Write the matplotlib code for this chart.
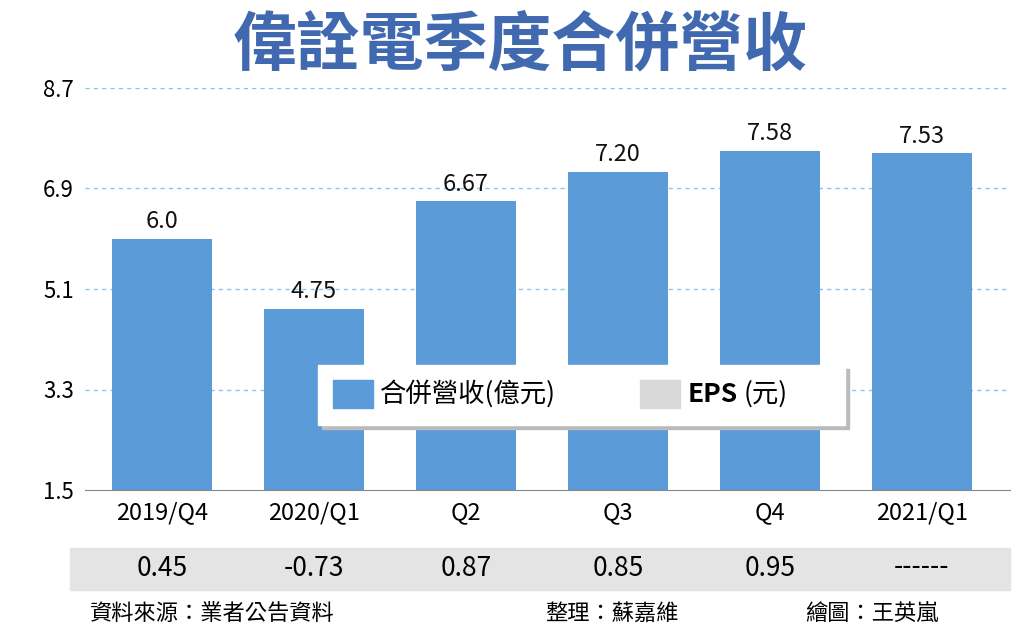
import matplotlib.pyplot as plt
from matplotlib.patches import Rectangle

plt.rcParams['font.family'] = ['Noto Sans CJK TC', 'DejaVu Sans']

quarters = ['2019/Q4', '2020/Q1', 'Q2', 'Q3', 'Q4', '2021/Q1']
revenue = [6.0, 4.75, 6.67, 7.20, 7.58, 7.53]
revenue_labels = ['6.0', '4.75', '6.67', '7.20', '7.58', '7.53']
eps_labels = ['0.45', '-0.73', '0.87', '0.85', '0.95', '------']
yticks = [1.5, 3.3, 5.1, 6.9, 8.7]

BLUE = '#5b9bd8'
W, H = 1024, 643
fig = plt.figure(figsize=(W / 100, H / 100), dpi=100)
ax = fig.add_axes([85 / W, 1 - 490 / H, 925 / W, 402 / H])

x = range(len(quarters))
ax.bar(x, [v - 1.5 for v in revenue], bottom=1.5, width=0.66, color=BLUE, zorder=2)
for i, (v, lab) in enumerate(zip(revenue, revenue_labels)):
    ax.text(i, v + 0.1, lab, ha='center', va='bottom', fontsize=17, color='#111111')

ax.set_xlim(-0.507, 5.58)
ax.set_ylim(1.5, 8.7)
ax.set_yticks(yticks)
ax.set_yticklabels([f'{t:.1f}' for t in yticks], fontsize=16)
for t in yticks[1:]:
    ax.axhline(t, color='#8ec3e6', ls=(0, (3, 3)), lw=1, zorder=1)
ax.set_xticks(list(x))
ax.set_xticklabels(quarters, fontsize=17)
ax.tick_params(length=0, pad=8)
for s in ['top', 'right', 'left']:
    ax.spines[s].set_visible(False)
ax.spines['bottom'].set_color('#888888')

# title
fig.text(520 / W, 1 - 46 / H, '偉詮電季度合併營收', ha='center', va='center',
         fontsize=46, color='#4169b0', fontweight='bold')

# EPS row
fig.patches.append(Rectangle((70 / W, 1 - 590 / H), 940 / W, 42 / H,
                             transform=fig.transFigure, color='#e4e4e4', zorder=0))
for i, lab in enumerate(eps_labels):
    xf = ax.transData.transform((i, 0))[0] / W
    fig.text(xf, 1 - 568 / H, lab, ha='center', va='center', fontsize=19)

# footer
fig.text(90 / W, 1 - 613 / H, '資料來源：業者公告資料', ha='left', va='center', fontsize=16)
fig.text(545 / W, 1 - 613 / H, '整理：蘇嘉維', ha='left', va='center', fontsize=16)
fig.text(805 / W, 1 - 613 / H, '繪圖：王英嵐', ha='left', va='center', fontsize=16)

# legend box
fig.patches.append(Rectangle((322 / W, 1 - 429 / H), 527 / W, 60 / H,
                             transform=fig.transFigure, color='#bbbbbb', zorder=3))
fig.patches.append(Rectangle((318 / W, 1 - 425 / H), 527 / W, 60 / H,
                             transform=fig.transFigure, color='white', zorder=4))
fig.patches.append(Rectangle((333 / W, 1 - 408 / H), 40 / W, 28 / H,
                             transform=fig.transFigure, color=BLUE, zorder=5))
fig.text(380 / W, 1 - 394 / H, '合併營收(億元)', ha='left', va='center', fontsize=19, zorder=6)
fig.patches.append(Rectangle((640 / W, 1 - 408 / H), 40 / W, 28 / H,
                             transform=fig.transFigure, color='#d8d8d8', zorder=5))
fig.text(688 / W, 1 - 394 / H, 'EPS', ha='left', va='center', fontsize=19,
         fontweight='bold', zorder=6)
fig.text(744 / W, 1 - 394 / H, '(元)', ha='left', va='center', fontsize=19, zorder=6)

fig.savefig('out.png', dpi=100)
